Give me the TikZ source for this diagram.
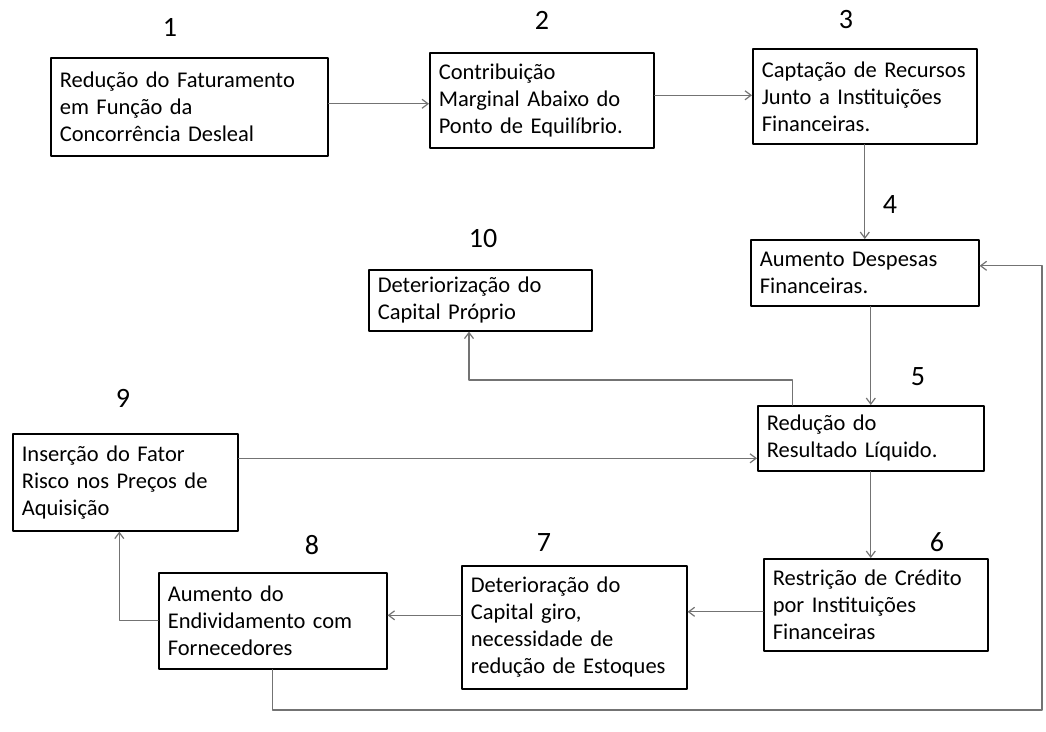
\documentclass[tikz,border=0pt]{standalone}
\usepackage{fontspec}
\setmainfont{Carlito}
\usetikzlibrary{arrows.meta}
\begin{document}
\begin{tikzpicture}[x=1pt,y=-1pt,line join=round,line cap=round,>={Straight Barb[length=6pt,width=9pt]}]
	\tikzset{box/.style={draw,line width=1.6pt,align=left,inner xsep=9pt,inner ysep=0pt,anchor=north west,font=\fontsize{22.5}{27}\selectfont},
		num/.style={font=\fontsize{28}{30}\selectfont},
		arr/.style={->,draw=black!55,line width=1.2pt}}
	\useasboundingbox (0,0) rectangle (1046,731);
	\node[box,text width=259pt,minimum height=98pt] (b1) at (50,57) {Redução do Faturamento\\em Função da\\Concorrência Desleal};
	\node[box,text width=206pt,minimum height=95pt] (b2) at (429,52) {Contribuição\\Marginal Abaixo do\\Ponto de Equilíbrio.};
	\node[box,text width=206pt,minimum height=95pt] (b3) at (752,48) {Captação de Recursos\\Junto a Instituições\\Financeiras.};
	\node[box,text width=210pt,minimum height=66pt] (b4) at (750,239) {Aumento Despesas\\Financeiras.};
	\node[box,text width=208pt,minimum height=65pt] (b5) at (757,405) {Redução do\\Resultado Líquido.};
	\node[box,text width=206pt,minimum height=92pt] (b6) at (763,558) {Restrição de Crédito\\por Instituições\\Financeiras};
	\node[box,text width=207pt,minimum height=123pt] (b7) at (461,565) {Deterioração do\\Capital giro,\\necessidade de\\redução de Estoques};
	\node[box,text width=210pt,minimum height=96pt] (b8) at (158,572) {Aumento do\\Endividamento com\\Fornecedores};
	\node[box,text width=207pt,minimum height=97pt] (b9) at (12,433) {Inserção do Fator\\Risco nos Preços de\\Aquisição};
	\node[box,text width=205pt,minimum height=61pt] (b10) at (368,269) {Deteriorização do\\Capital Próprio};
	\node[num] (n1) at (170,27) {1};
	\node[num] (n2) at (542,20) {2};
	\node[num] (n3) at (846,20) {3};
	\node[num] (n4) at (890,205) {4};
	\node[num] (n5) at (918,377) {5};
	\node[num] (n6) at (937,542) {6};
	\node[num] (n7) at (544,543) {7};
	\node[num] (n8) at (312,545) {8};
	\node[num] (n9) at (123,398) {9};
	\node[num] (n10) at (483,239) {10};
	\coordinate (k10) at (469,380);
	\coordinate (k4) at (1042,710);
	\draw[arr] ([yshift=3pt]b1.east) -- ([yshift=3pt]b1.east -| b2.west);
	\draw[arr] ([yshift=5pt]b2.east) -- ([yshift=5pt]b2.east -| b3.west);
	\draw[arr] (b3.south) -- (b3.south |- b4.north);
	\draw[arr] (b4.south -| b5.north) -- (b5.north);
	\draw[arr] (b5.south) -- (b5.south |- b6.north);
	\draw[arr] ([yshift=-7pt]b6.west) -- ([yshift=-7pt]b6.west -| b7.east);
	\draw[arr] ([yshift=12pt]b7.west) -- ([yshift=12pt]b7.west -| b8.east);
	\draw[arr] (b8.west) -| ([xshift=-6pt]b9.south);
	\draw[arr] ([yshift=24pt]b9.east) -- ([yshift=24pt]b9.east -| b5.west);
	\draw[arr] ([xshift=-78pt]b5.north) |- (k10) -- (k10 |- b10.south);
	\draw[arr] (b8.south) |- (k4) |- ([yshift=7pt]b4.east);
\end{tikzpicture}
\end{document}
